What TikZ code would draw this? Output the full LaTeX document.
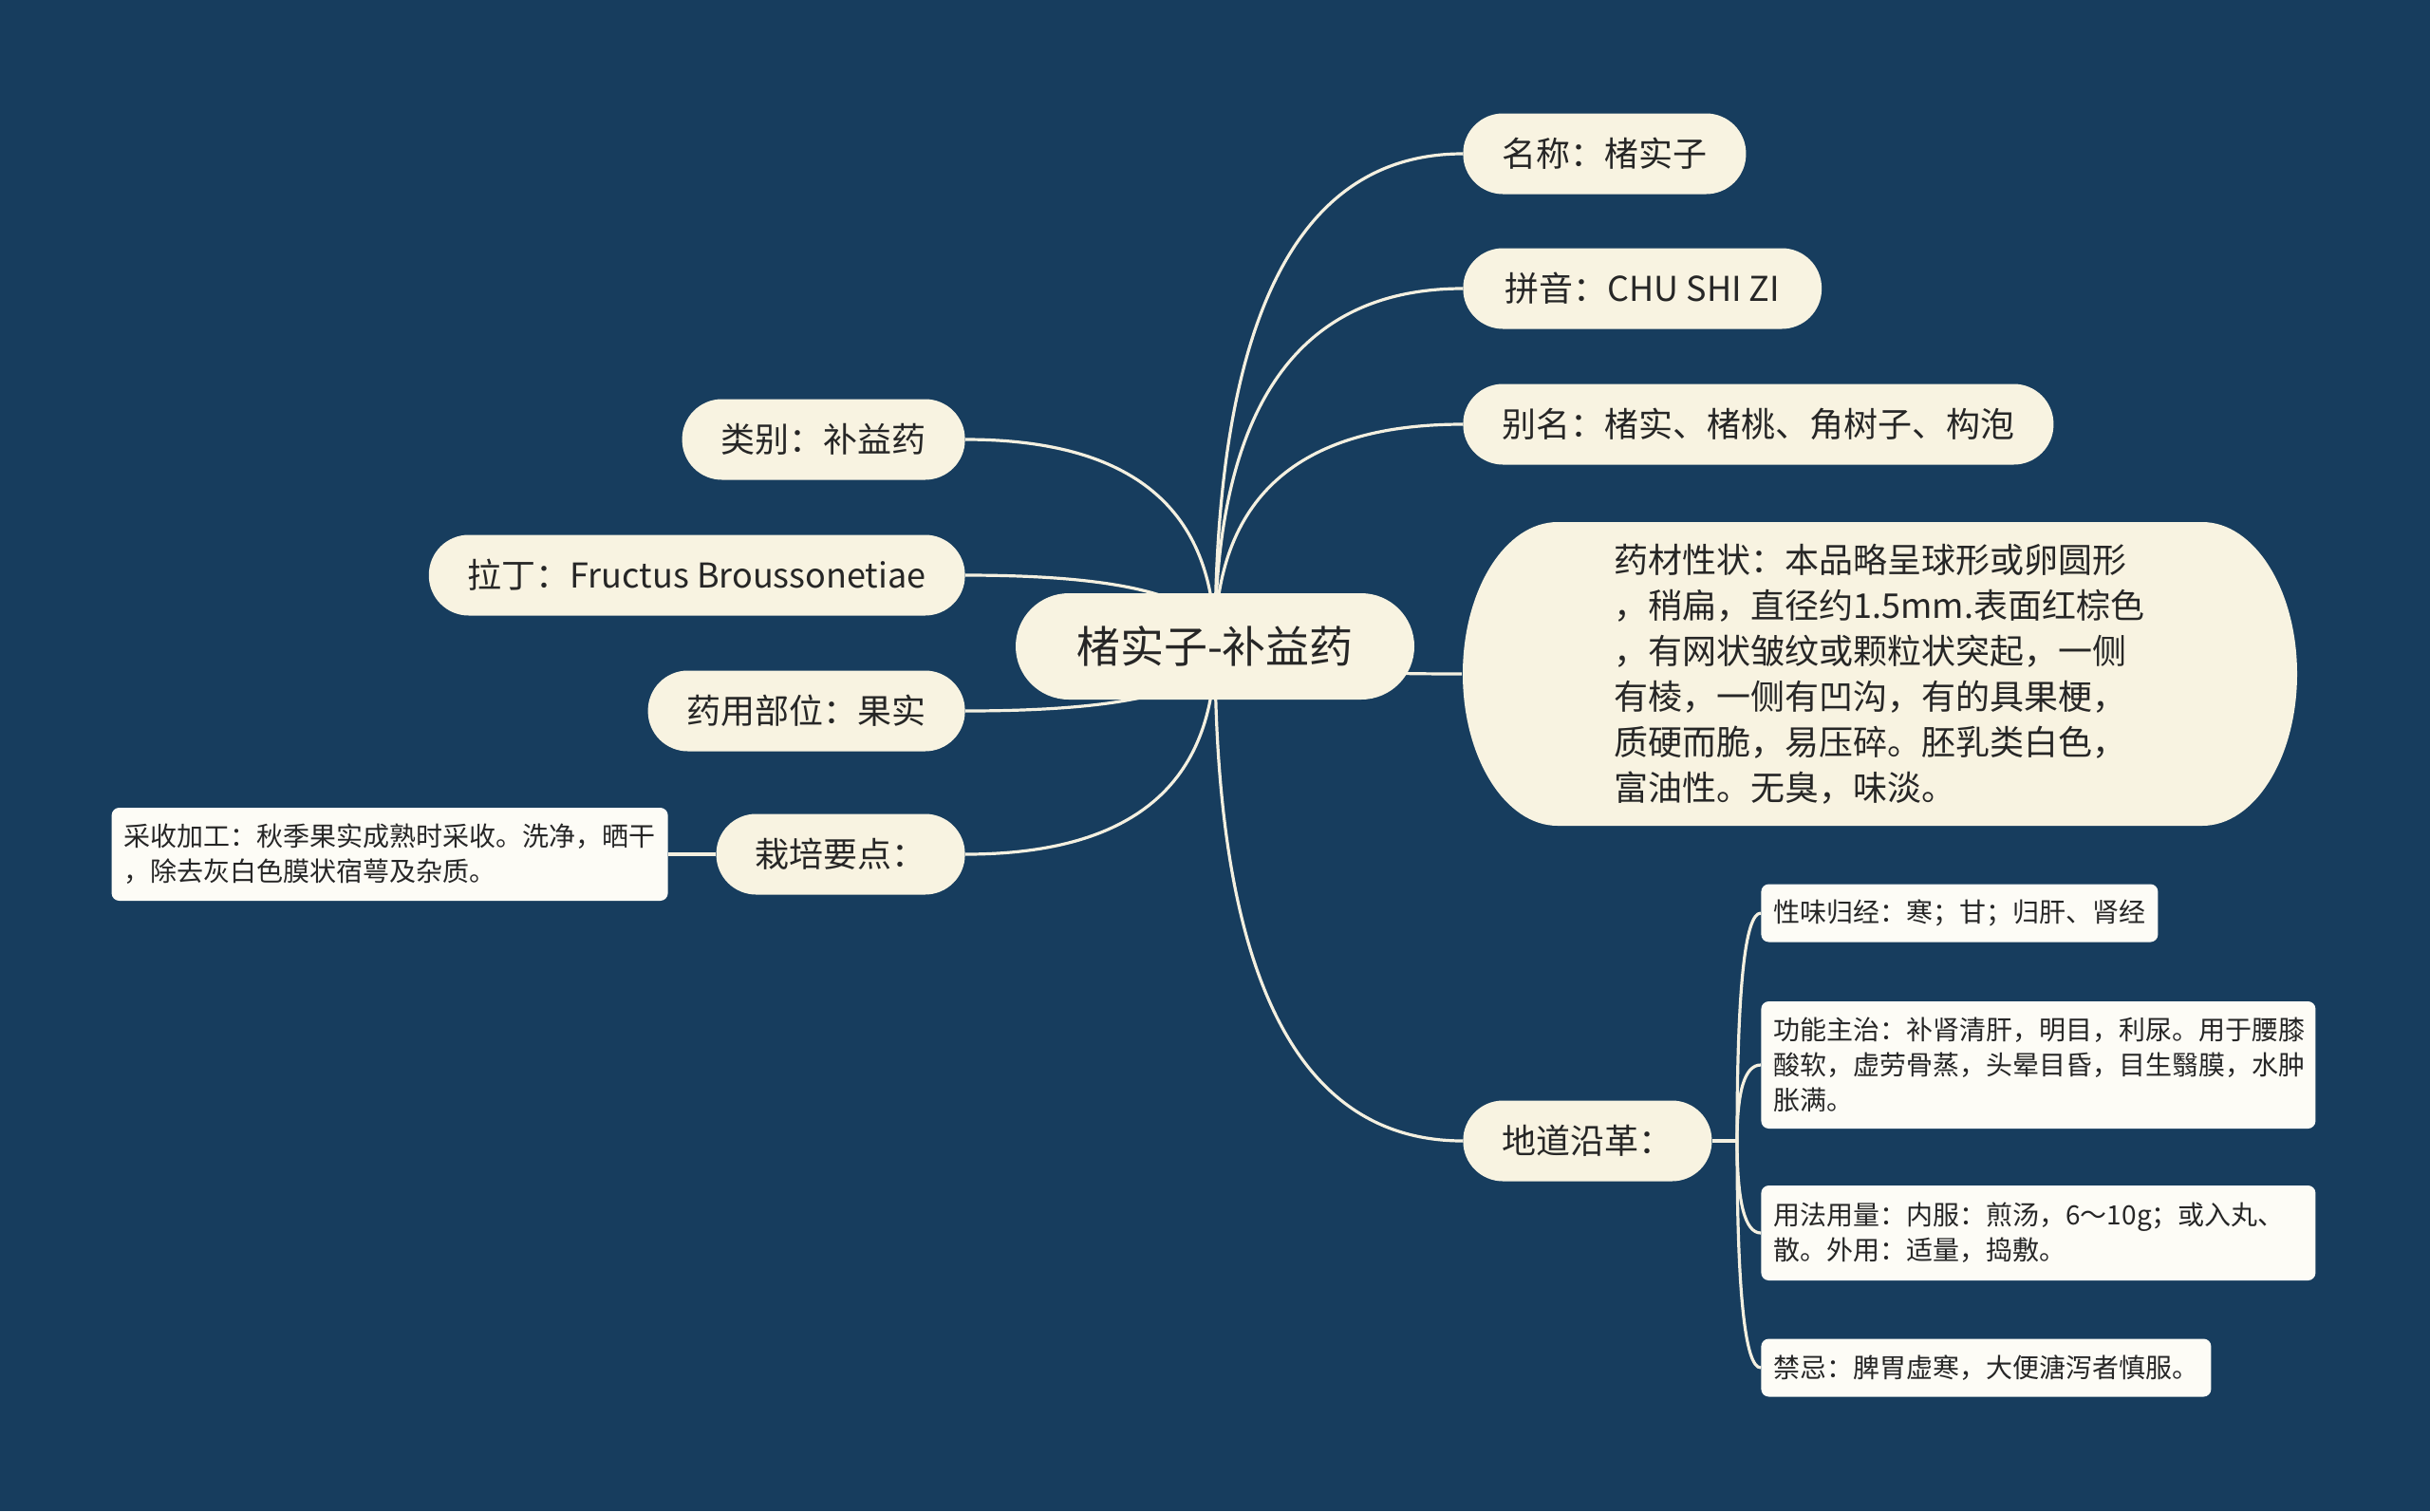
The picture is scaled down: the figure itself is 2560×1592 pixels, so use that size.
\documentclass[tikz,border=0pt]{standalone}
\usepackage{fontspec}
\setmainfont{Noto Sans CJK SC}
\usetikzlibrary{backgrounds,calc}
\pgfdeclarelayer{edges}
\pgfsetlayers{background,edges,main}
\definecolor{bgnavy}{HTML}{173D5E}
\definecolor{cream}{HTML}{F8F3E1}
\definecolor{paper}{HTML}{FDFCF6}
\definecolor{ink}{HTML}{262626}
\definecolor{wirecol}{HTML}{F4F0E0}
\newcommand\branchline[2]{\draw[wire] (#1) .. controls ($(#1)!0.667!(#1 |- #2)$) and ($(#2)!0.667!(#1 |- #2)$) .. (#2);}
\begin{document}
\begin{tikzpicture}[x=0.5pt,y=-0.5pt,
  topic/.style={fill=cream, text=ink, rounded corners=21pt, minimum height=42.5pt, inner xsep=20.5pt, inner ysep=0pt, font=\fontsize{18pt}{24pt}\selectfont},
  rootbox/.style={fill=cream, text=ink, rounded corners=28pt, minimum height=56pt, minimum width=210pt, inner ysep=0pt, font=\fontsize{23pt}{28pt}\selectfont},
  note/.style={fill=paper, text=ink, rounded corners=4pt, inner xsep=6.5pt, inner ysep=0pt, align=left, font=\fontsize{14pt}{18.4pt}\selectfont},
  wire/.style={draw=wirecol, line width=1.6pt}
]
\useasboundingbox (0,0) rectangle (2560,1592);
\begin{pgfonlayer}{background}
\fill[bgnavy] (0,0) rectangle (2560,1592);
\end{pgfonlayer}

% central topic
\node[rootbox] (root) at (1280,681) {楮实子-补益药};

% right side
\node[topic, anchor=west] (name) at (1541,162) {名称：楮实子};
\node[topic, anchor=west, inner xsep=22pt] (pinyin) at (1541,304) {拼音：CHU SHI ZI};
\node[topic, anchor=west] (alias) at (1541,447) {别名：楮实、楮桃、角树子、构泡};
\fill[cream] (1641,550) -- (2320,550) arc[start angle=90,end angle=-90,x radius=50pt,y radius=80pt] -- (1641,870) arc[start angle=270,end angle=90,x radius=50pt,y radius=80pt] -- cycle;
\node[text=ink, align=left, minimum width=439.5pt, minimum height=160pt, inner sep=0pt, font=\fontsize{18pt}{24pt}\selectfont] (desc) at (1980,710)
  {药材性状：本品略呈球形或卵圆形\\，稍扁，直径约1.5mm.表面红棕色\\，有网状皱纹或颗粒状突起，一侧\\有棱，一侧有凹沟，有的具果梗，\\质硬而脆，易压碎。胚乳类白色，\\富油性。无臭，味淡。};
\node[topic, anchor=west] (origin) at (1541,1202) {地道沿革：};

\node[note, anchor=west, minimum height=30.5pt] (n1) at (1855,962) {性味归经：寒；甘；归肝、肾经};
\node[note, anchor=west, minimum height=67pt, text width=279pt] (n2) at (1855,1122) {功能主治：补肾清肝，明目，利尿。用于腰膝\\酸软，虚劳骨蒸，头晕目昏，目生翳膜，水肿\\胀满。};
\node[note, anchor=west, minimum height=50pt, text width=279pt] (n3) at (1855,1299) {用法用量：内服：煎汤，6～10g；或入丸、\\散。外用：适量，捣敷。};
\node[note, anchor=west, minimum height=30.5pt] (n4) at (1855,1441) {禁忌：脾胃虚寒，大便溏泻者慎服。};
\coordinate (spine) at (1830,1202);

% left side
\node[topic, anchor=east] (cat) at (1017,463) {类别：补益药};
\node[topic, anchor=east] (latin) at (1017,606) {拉丁：Fructus Broussonetiae};
\node[topic, anchor=east] (part) at (1017,749) {药用部位：果实};
\node[topic, anchor=east] (cult) at (1017,900) {栽培要点：};
\node[note, anchor=east, minimum height=49pt, text width=280pt] (harv) at (704,900) {采收加工：秋季果实成熟时采收。洗净，晒干\\，除去灰白色膜状宿萼及杂质。};

\begin{pgfonlayer}{edges}
\branchline{root.center}{name.west}
\branchline{root.center}{pinyin.west}
\branchline{root.center}{alias.west}
\branchline{root.center}{desc.west}
\branchline{root.center}{origin.west}
\branchline{root.center}{cat.east}
\branchline{root.center}{latin.east}
\branchline{root.center}{part.east}
\branchline{root.center}{cult.east}
\draw[wire] (cult.west) -- (harv.east);
\draw[wire] (origin.east) -- (spine);
\branchline{spine}{n1.west}
\branchline{spine}{n2.west}
\branchline{spine}{n3.west}
\branchline{spine}{n4.west}
\end{pgfonlayer}
\end{tikzpicture}
\end{document}
